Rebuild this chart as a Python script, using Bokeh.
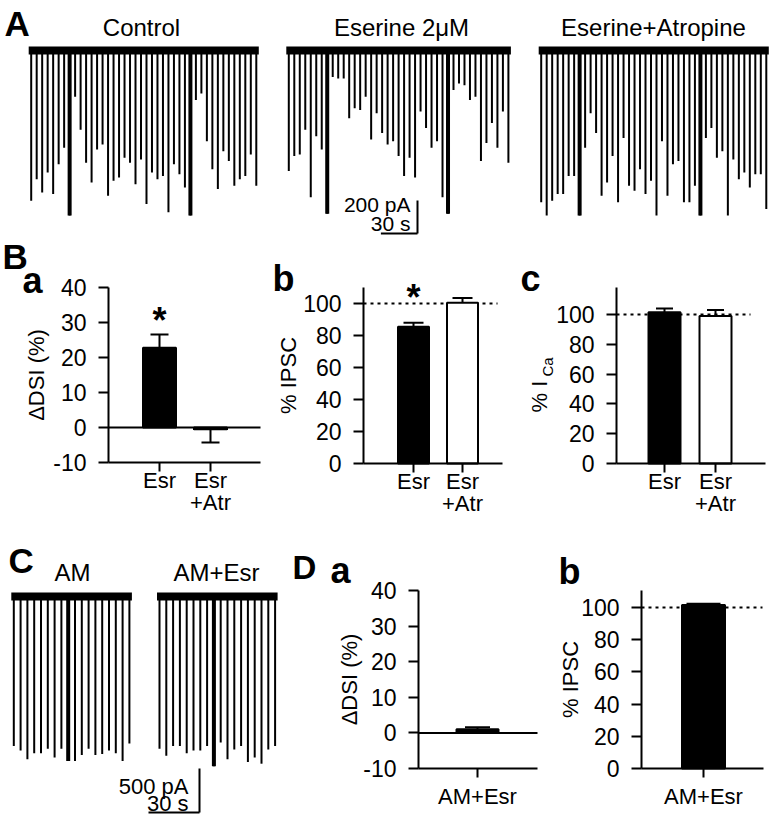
import numpy as np
from math import pi
from bokeh.plotting import figure
from bokeh.models import (Range1d, Label, Whisker, TeeHead, ColumnDataSource, FixedTicker,
                          LinearAxis)
from bokeh.layouts import row, column
from bokeh.embed import file_html
from bokeh.resources import INLINE

FONT = "Liberation Sans"

# ---------------- data ----------------
# Panel A: evoked IPSC amplitudes (pA), one stimulus every STIM_A s
STIM_A = 4.5
control_pA = [910, 780, 860, 740, 870, 690, 590, 1000, 280, 480, 680, 800, 600, 570,
              880, 790, 770, 650, 680, 810, 660, 930, 740, 780, 760, 980, 690, 750,
              830, 1000, 300, 260, 550, 720, 840, 610, 670, 820, 780, 760, 630, 820]
control_steps = [7, 29]
eserine_pA = [730, 640, 630, 480, 890, 520, 600, 990, 160, 170, 170, 410, 350, 360,
              280, 540, 380, 500, 570, 550, 640, 760, 650, 770, 370, 470, 590, 550,
              890, 990, 240, 200, 210, 300, 280, 670, 560, 440, 590, 370, 680]
eserine_steps = [7, 29]
atropine_pA = [920, 1000, 910, 870, 870, 760, 760, 1000, 590, 380, 500, 880, 800, 640,
               920, 530, 820, 850, 720, 870, 790, 1000, 550, 880, 690, 670, 920, 920,
               820, 1000, 530, 470, 650, 610, 1000, 660, 780, 740, 830, 750, 750, 960]
atropine_steps = [7, 29]
A_titles = ["Control", "Eserine 2\u03bcM", "Eserine+Atropine"]
A_scale = (200, 30)   # pA, s

# Panel C
STIM_C = 4.0
am_pA = [1700, 1750, 1850, 1780, 1780, 1730, 1830, 1730, 1870, 1870, 1800, 1730,
         1800, 1790, 1750, 1780, 1870, 1670]
am_steps = [8]
amesr_pA = [1730, 1810, 1700, 1700, 1780, 1750, 1750, 1700, 1930, 1660, 1850, 1740,
            1700, 1880, 1830, 1900, 1740, 1700]
amesr_steps = [8]
C_titles = ["AM", "AM+Esr"]
C_scale = (500, 30)

# Panel B
b_groups = ["Esr", "Esr\n+Atr"]
b_fill = ["black", "white"]
ba_dsi = [22.8, -0.5]
ba_sem = [3.8, 3.8]
bb_ipsc = [85.5, 100.5]
bb_sem = [2.5, 3.0]
bc_ica = [101.5, 99.0]
bc_sem = [2.5, 4.0]
b_sig = [True, False]

# Panel D
d_groups = ["AM+Esr"]
d_fill = ["black"]
da_dsi = [1.0]
da_sem = [0.6]
db_ipsc = [101.5]
db_sem = [0.8]

# ---------------- helpers ----------------
BASE_CORR = 0.33   # baseline correction (fraction of font size)


def txt(p, s, cx, cy, size, bold=False, align="left", angle=0.0):
    corr = BASE_CORR * size
    x, y = cx, p.height - cy
    if angle:
        x -= corr
    else:
        y += corr
    p.add_layout(Label(x=x, y=y, x_units="screen", y_units="screen",
                       text=s, text_font=FONT, text_font_size=f"{size}px",
                       text_font_style="bold" if bold else "normal", text_align=align,
                       text_baseline="alphabetic", angle=angle, text_color="black"))


def blank_fig(w, h, xr, yr):
    p = figure(width=w, height=h, x_range=xr, y_range=yr, x_axis_type=None, y_axis_type=None,
               toolbar_location=None, output_backend="svg", min_border=0,
               outline_line_color=None)
    return p


def trace_panel(w, h, firsts_px, base_px, spx, ppx, traces, stim):
    xr = Range1d(-firsts_px[0] * spx, (w - firsts_px[0]) * spx)
    yr = Range1d(-(h - base_px) * ppx, base_px * ppx)
    p = blank_fig(w, h, xr, yr)
    for fpx, (amps, steps) in zip(firsts_px, traces):
        t0 = (fpx - firsts_px[0]) * spx
        t = t0 + stim * np.arange(len(amps))
        a = np.asarray(amps, float)
        pad = 2.5 * spx
        p.segment(x0=t, y0=np.zeros_like(a), x1=t, y1=-a, line_width=2, line_color="black")
        p.segment(x0=t[steps], y0=np.zeros(len(steps)), x1=t[steps], y1=-a[steps],
                  line_width=4, line_color="black")
        p.segment(x0=[t[0] - pad], y0=[0], x1=[t[-1] + pad], y1=[0], line_width=8,
                  line_color="black")
    return p


def scale_bar(p, corner_px, pa, sec, spx, ppx):
    x = p.x_range.start + corner_px[0] * spx
    y = p.y_range.end - corner_px[1] * ppx
    p.segment(x0=[x, x - sec], y0=[y, y], x1=[x, x], y1=[y + pa, y], line_width=2,
              line_color="black")


def bar_panel(w, h, c1_px, unit_px, axis_px, end_px, ylo, ylo_px, k, top_px, yticks,
              groups, vals, sems, fills, bar_px, head, ylabel=None, lab_stand=0,
              ref_end_px=None, zero=False, sig=None, sig_off=0, xstand=2):
    def X(px):
        return 1 + (px - c1_px) / unit_px

    def Y(py):
        return ylo + (ylo_px - py) / k

    p = blank_fig(w, h, Range1d(X(0), X(w)), Range1d(Y(h), Y(0)))
    xs = list(range(1, len(groups) + 1))
    ax0, ax1, ytop = X(axis_px), X(end_px), Y(top_px)

    yax = LinearAxis(fixed_location=ax0, bounds=(ylo, ytop), ticker=FixedTicker(ticks=yticks),
                     major_label_overrides={t: str(t) for t in yticks})
    xax = LinearAxis(fixed_location=ylo, bounds=(ax0, ax1), ticker=FixedTicker(ticks=xs),
                     major_label_overrides={x: g for x, g in zip(xs, groups)})
    for ax in (yax, xax):
        ax.axis_line_width = 2
        ax.axis_line_color = "black"
        ax.major_tick_line_width = 2
        ax.major_tick_line_color = "black"
        ax.minor_tick_line_color = None
        ax.major_tick_in = 0
        ax.major_label_text_font = FONT
        ax.major_label_text_color = "black"
    yax.major_tick_out = 10
    xax.major_tick_out = 9
    yax.major_label_text_font_size = "23px"
    xax.major_label_text_font_size = "22px"
    xax.major_label_text_line_height = 0.9
    yax.major_label_standoff = 12
    xax.major_label_standoff = xstand
    if ylabel:
        yax.axis_label = ylabel
        yax.axis_label_text_font = FONT
        yax.axis_label_text_font_size = "22px"
        yax.axis_label_text_font_style = "normal"
        yax.axis_label_text_color = "black"
        yax.axis_label_standoff = lab_stand
    p.add_layout(yax, "left")
    p.add_layout(xax, "below")

    if ref_end_px is not None:
        p.segment(x0=[ax0], y0=[100], x1=[X(ref_end_px)], y1=[100], line_color="black",
                  line_width=2, line_dash="3 4")
    p.vbar(x=xs, top=vals, bottom=0, width=bar_px / unit_px, fill_color=fills,
           line_color="black", line_width=2)
    up = [(x, v, s) for x, v, s in zip(xs, vals, sems) if v >= 0]
    dn = [(x, v, s) for x, v, s in zip(xs, vals, sems) if v < 0]
    if up:
        src = ColumnDataSource(dict(x=[u[0] for u in up], lower=[u[1] for u in up],
                                    upper=[u[1] + u[2] for u in up]))
        p.add_layout(Whisker(source=src, base="x", lower="lower", upper="upper",
                             line_width=2, line_color="black", level="overlay",
                             upper_head=TeeHead(size=head, line_width=2, line_color="black"),
                             lower_head=None))
    if dn:
        src = ColumnDataSource(dict(x=[u[0] for u in dn], upper=[u[1] for u in dn],
                                    lower=[u[1] - u[2] for u in dn]))
        p.add_layout(Whisker(source=src, base="x", lower="lower", upper="upper",
                             line_width=2, line_color="black", level="overlay",
                             lower_head=TeeHead(size=head, line_width=2, line_color="black"),
                             upper_head=None))
    if zero:
        p.segment(x0=[ax0], y0=[0], x1=[ax1], y1=[0], line_color="black", line_width=2)
    if sig:
        for x, v, s, flag in zip(xs, vals, sems, sig):
            if flag:
                p.add_layout(Label(x=x, y=v + s, x_units="data", y_units="data", text="*",
                                   y_offset=sig_off + BASE_CORR * 36, text_font=FONT,
                                   text_font_size="36px", text_font_style="bold",
                                   text_align="center", text_baseline="alphabetic",
                                   text_color="black"))
    return p


# ---------------- row A (y 0..236) ----------------
SPX_A = STIM_A / 5.49
PPX_A = A_scale[0] / 33.0
HA = 236
a1 = trace_panel(270, HA, [30.7], 50, SPX_A, PPX_A, [(control_pA, control_steps)], STIM_A)
a2 = trace_panel(255, HA, [18.3], 50, SPX_A, PPX_A, [(eserine_pA, eserine_steps)], STIM_A)
a3 = trace_panel(249, HA, [15.7], 50, SPX_A, PPX_A, [(atropine_pA, atropine_steps)], STIM_A)
txt(a1, "A", 4, 35, 35, bold=True)
txt(a1, A_titles[0], 141, 35, 24, align="center")
txt(a2, A_titles[1], 131, 35, 24, align="center")
txt(a3, A_titles[2], 128, 35, 24, align="center")
scale_bar(a2, (147, 233), A_scale[0], A_scale[1], SPX_A, PPX_A)
txt(a2, f"{A_scale[0]} pA", 140, 211, 21, align="right")
txt(a2, f"{A_scale[1]} s", 140, 230, 21, align="right")

# ---------------- row B (y 236..535) ----------------
HB = 299
ba = bar_panel(270, HB, 159, 51, 108, 260, -10, 226, 3.5, 51, [-10, 0, 10, 20, 30, 40],
               b_groups, ba_dsi, ba_sem, b_fill, 33, 18, ylabel="\u0394DSI (%)", lab_stand=1,
               zero=True, sig=b_sig, sig_off=2, xstand=-4)
bb = bar_panel(250, HB, 143, 49, 93, 232, 0, 227, 1.6, 51, [0, 20, 40, 60, 80, 100],
               b_groups, bb_ipsc, bb_sem, b_fill, 31, 20, ylabel="% IPSC", lab_stand=-1,
               ref_end_px=227, sig=b_sig, sig_off=13, xstand=-4)
bc = bar_panel(254, HB, 144, 51, 96, 245, 0, 227, 1.49, 51, [0, 20, 40, 60, 80, 100],
               b_groups, bc_ica, bc_sem, b_fill, 32, 17, ref_end_px=230, xstand=-4)
txt(ba, "B", 2, 32, 35, bold=True)
txt(ba, "a", 22, 56, 36, bold=True)
txt(bb, "b", 2, 54, 36, bold=True)
txt(bc, "c", 0, 54, 36, bold=True)
txt(bc, "% I", 26, 176, 22, angle=pi / 2)
txt(bc, "Ca", 32, 140, 15, angle=pi / 2)

# ---------------- row C / D (y 535..826) ----------------
HC = 291
SPX_C = STIM_C / 6.8
PPX_C = C_scale[0] / 44.0
cfig = trace_panel(290, HC, [13.3, 159], 61, SPX_C, PPX_C,
                   [(am_pA, am_steps), (amesr_pA, amesr_steps)], STIM_C)
txt(cfig, "C", 8, 37, 35, bold=True)
txt(cfig, C_titles[0], 72, 45, 24, align="center")
txt(cfig, C_titles[1], 216, 45, 24, align="center")
scale_bar(cfig, (199, 277), C_scale[0], C_scale[1], SPX_C, PPX_C)
txt(cfig, f"{C_scale[0]} pA", 188, 258, 22, align="right")
txt(cfig, f"{C_scale[1]} s", 188, 275, 22, align="right")

da = bar_panel(255, HC, 187, 59, 128, 247, -10, 233, 3.56, 55, [-10, 0, 10, 20, 30, 40],
               d_groups, da_dsi, da_sem, d_fill, 42, 25, ylabel="\u0394DSI (%)", lab_stand=-2,
               zero=True, xstand=6)
db = bar_panel(229, HC, 158, 61, 96, 218, 0, 233, 1.61, 55, [0, 20, 40, 60, 80, 100],
               d_groups, db_ipsc, db_sem, d_fill, 43, 34, ylabel="% IPSC", lab_stand=-5,
               ref_end_px=217, xstand=6)
txt(da, "D", 2, 43, 33, bold=True)
txt(da, "a", 40, 47, 36, bold=True)
txt(db, "b", 13, 48, 36, bold=True)

layout = column(row(a1, a2, a3), row(ba, bb, bc), row(cfig, da, db))

open("out.html", "w").write(file_html(layout, INLINE, title="Figure"))
